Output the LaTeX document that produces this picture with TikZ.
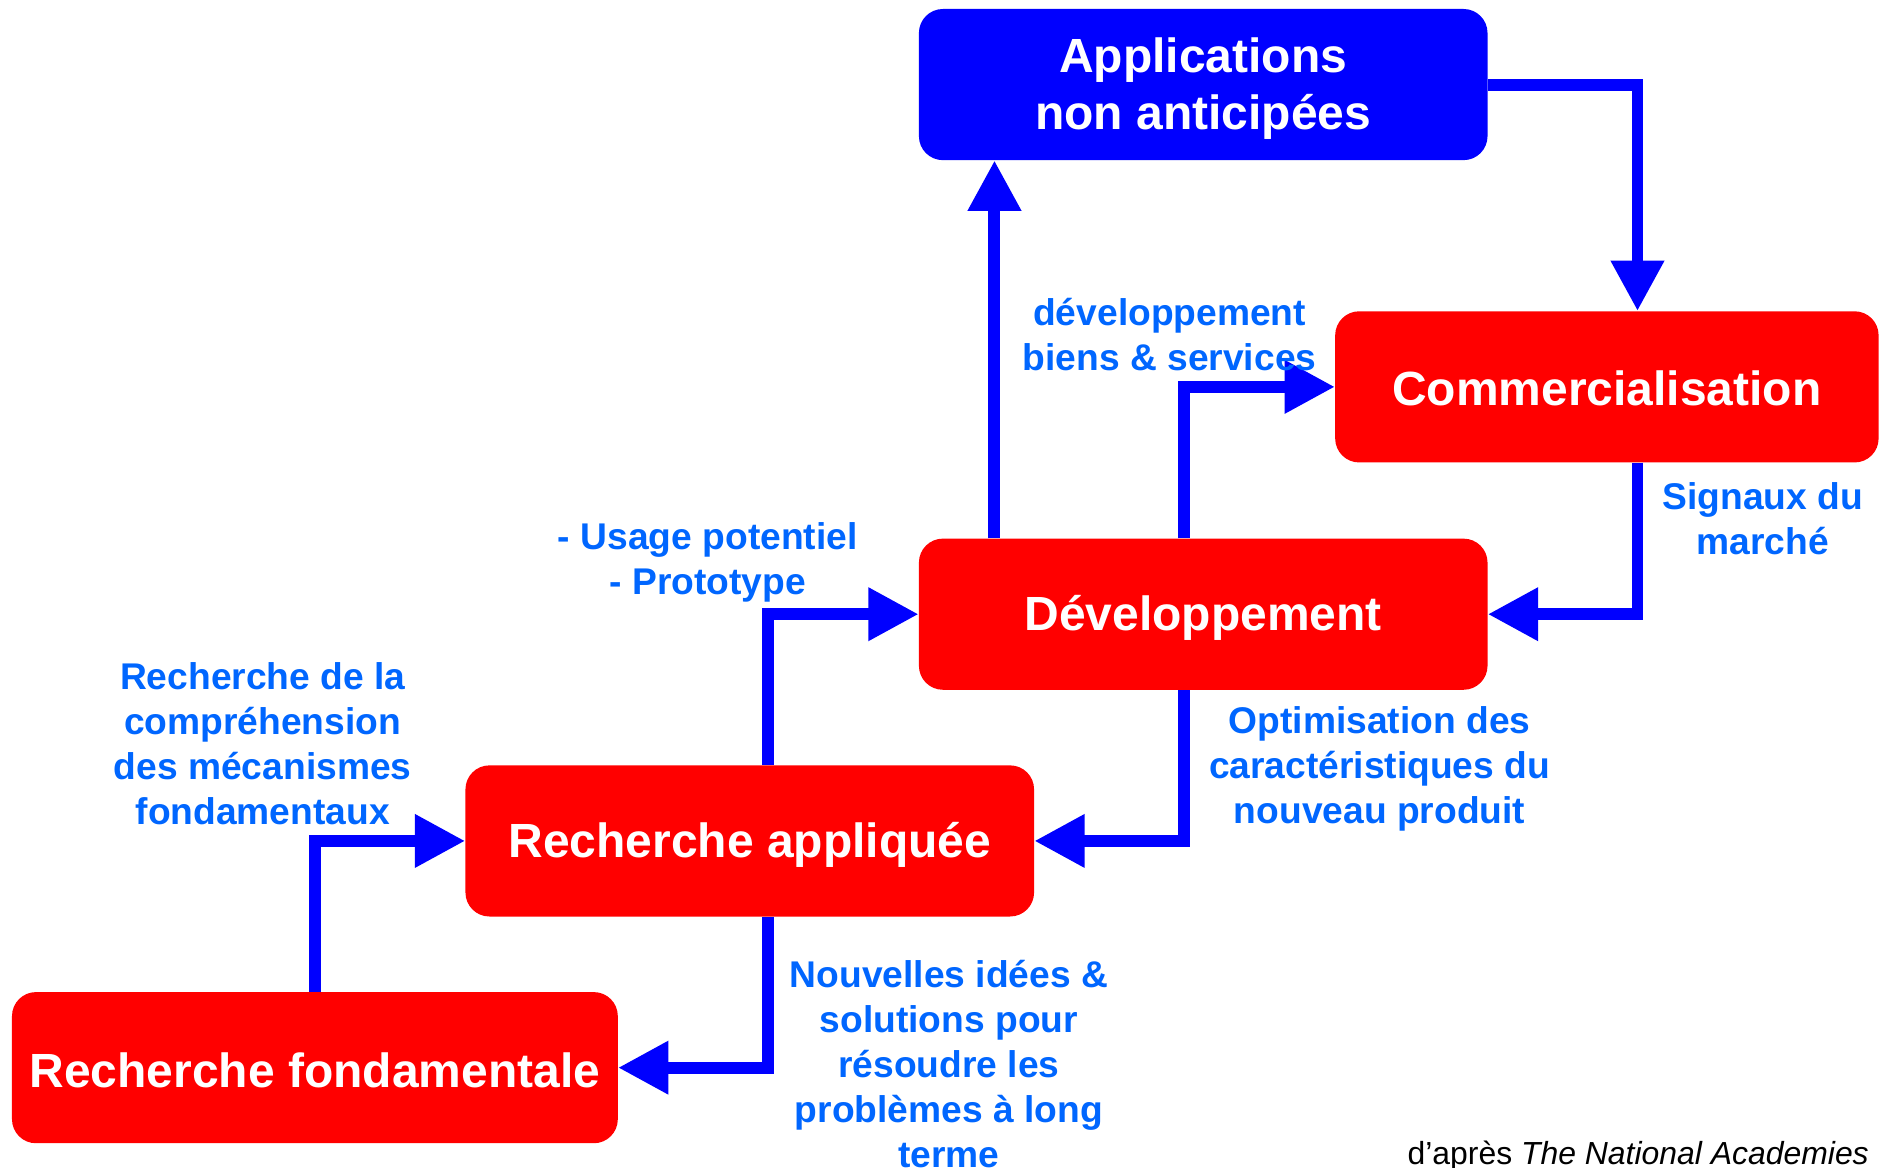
\documentclass[tikz,border=0pt]{standalone}
\usepackage{fontspec}
\setmainfont{Liberation Sans}
\usetikzlibrary{arrows.meta}
\definecolor{boxred}{RGB}{255,0,0}
\definecolor{boxblue}{RGB}{0,0,255}
\definecolor{labblue}{RGB}{0,102,255}
\newcommand{\lowerby}[2]{\raisebox{-#1}[\height][\depth]{#2}}
\tikzset{
  stage/.style={rectangle, rounded corners=20pt, fill=boxred, text=white,
    font=\fontsize{40}{48}\selectfont\bfseries, align=center,
    minimum height=126pt, inner sep=0pt},
  appbox/.style={stage, fill=boxblue},
  conn/.style={draw=boxblue, line width=10pt, miter limit=10,
    -{Triangle[length=42pt,width=42pt]}},
  lab/.style={text=labblue, font=\fontsize{31}{37.5}\selectfont\bfseries, align=center, inner sep=0pt}
}
\begin{document}
\begin{tikzpicture}[x=1pt,y=-1pt]
\useasboundingbox (0,0) rectangle (1568,973);
% boxes
\node[appbox, minimum width=474pt] (app) at (1003,70.5) {\lowerby{4pt}{\begin{tabular}{@{}c@{}}Applications\\non anticipées\end{tabular}}};
\node[stage, minimum width=453pt] (com) at (1339.5,322.5) {\lowerby{1.5pt}{Commercialisation}};
\node[stage, minimum width=474pt] (dev) at (1003,512) {\lowerby{3pt}{Développement}};
\node[stage, minimum width=474pt] (ra) at (625,701) {\lowerby{3pt}{Recherche appliquée}};
\node[stage, minimum width=505pt] (rf) at (262.5,890) {\lowerby{2pt}{Recherche fondamentale}};
% connectors
\draw[conn] ([xshift=-174pt]dev.north) -- ([xshift=-174pt]app.south);
\draw[conn] (app.east) -| ([xshift=25.5pt]com.north);
\draw[conn] ([xshift=-16pt]dev.north) |- (com.west);
\draw[conn] ([xshift=25.5pt]com.south) |- (dev.east);
\draw[conn] ([xshift=-16pt]dev.south) |- (ra.east);
\draw[conn] ([xshift=15pt]ra.north) |- (dev.west);
\draw[conn] ([xshift=15pt]ra.south) |- (rf.east);
\draw[conn] (rf.north) |- (ra.west);
% labels
\node[lab] (l1) at (975,279) {développement\\biens \& services};
\node[lab] (l2) at (1469.5,432) {Signaux du\\marché};
\node[lab] (l3) at (590,469) {- Usage potentiel\\- Prototype};
\node[lab] (l4) at (219,620) {Recherche de la\\compréhension\\des mécanismes\\fondamentaux};
\node[lab] (l5) at (1150,641) {Optimisation des\\caractéristiques du\\nouveau produit};
\node[lab] (l6) at (791,887) {Nouvelles idées \&\\solutions pour\\résoudre les\\problèmes à long\\terme};
\node[anchor=base east, inner sep=0pt, font=\fontsize{26.6}{30}\selectfont] (src) at (1558,971) {d’après \textit{The National Academies}};
\end{tikzpicture}
\end{document}
